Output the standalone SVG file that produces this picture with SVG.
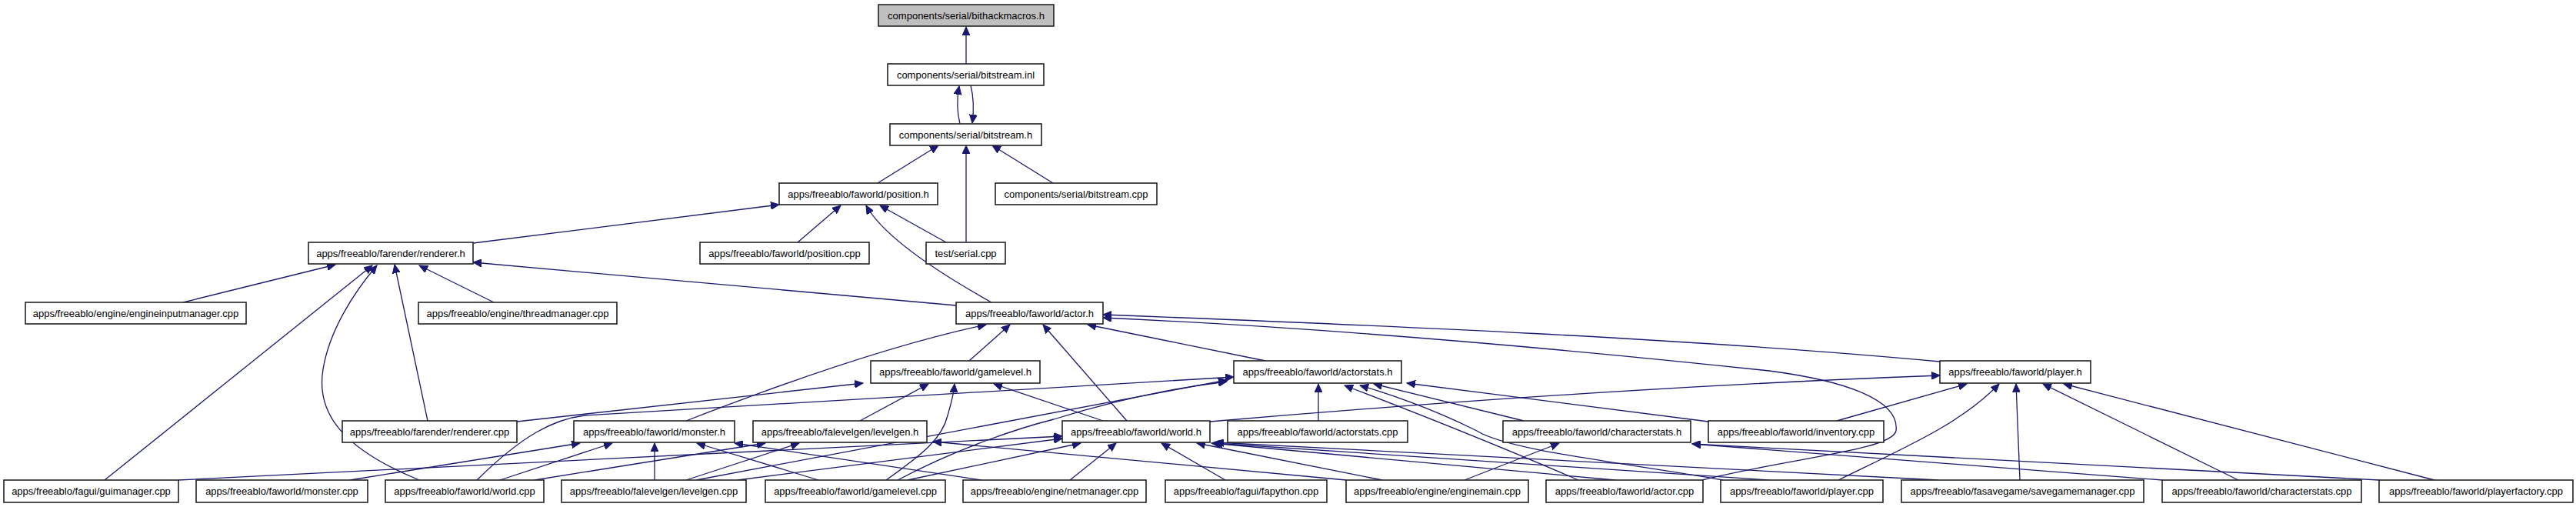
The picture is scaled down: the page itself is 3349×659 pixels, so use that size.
<svg xmlns="http://www.w3.org/2000/svg" width="3349" height="659" viewBox="0 0 3349 659">
<style>
.n rect{fill:#fff;stroke:#222;stroke-width:1.6}
.root rect{fill:#bfbfbf}
.n text{font-family:"Liberation Sans",Arial,sans-serif;font-size:13px;text-anchor:middle;fill:#000}
.e path{fill:none;stroke:#191970;stroke-width:1.3;marker-end:url(#ah)}
</style>
<defs>
<marker id="ah" markerWidth="12" markerHeight="10" refX="11" refY="5" orient="auto" markerUnits="userSpaceOnUse">
<path d="M0,0 L11,5 L0,10 Z" fill="#191970" stroke="#191970" stroke-width="1"/>
</marker>
</defs>
<rect width="3349" height="659" fill="#fff"/>
<g class="e" id="edges">
<path d="M1256,83 L1256,35"/>
<path d="M1248,161 C1244,145 1244,128 1247,112"/>
<path d="M1262,111 C1266,127 1266,145 1264,160"/>
<path d="M1141,238 L1220,189"/>
<path d="M1256,315 L1256,189"/>
<path d="M1369,238 L1290,189"/>
<path d="M615,316 L1013,266"/>
<path d="M1037,315 L1093,267"/>
<path d="M1230,315 L1144,267"/>
<path d="M1289,393 C1230,360 1150,310 1126,267"/>
<path d="M238,393 L436,344"/>
<path d="M642,393 L545,345"/>
<path d="M1243,397 L615,341"/>
<path d="M136,624 L484,345"/>
<path d="M545,624 C450,585 410,540 420,480 C428,430 460,380 490,345"/>
<path d="M556,547 L513,344"/>
<path d="M892,547 C1000,505 1150,450 1282,422"/>
<path d="M1260,469 L1313,422"/>
<path d="M1465,547 L1356,422"/>
<path d="M1645,469 L1414,422"/>
<path d="M2522,470 C2200,440 1800,423 1434,409"/>
<path d="M2213,624 C2330,595 2460,585 2465,560 C2470,520 2400,495 2300,482 C2000,450 1700,425 1434,413"/>
<path d="M672,548 L1122,498"/>
<path d="M1118,547 L1207,499"/>
<path d="M1152,624 C1200,590 1225,570 1232,540 C1238,520 1240,510 1241,499"/>
<path d="M1434,547 L1292,499"/>
<path d="M620,624 C680,565 720,545 760,540 L1604,490"/>
<path d="M1167,624 C1250,580 1330,555 1370,545 C1450,520 1520,505 1595,496"/>
<path d="M905,624 L1595,494"/>
<path d="M1714,547 L1714,499"/>
<path d="M2052,624 C1950,580 1850,540 1748,501"/>
<path d="M2240,624 C2100,600 1960,585 1920,560 C1860,530 1800,510 1768,501"/>
<path d="M1981,547 L1786,499"/>
<path d="M2221,548 L1829,498"/>
<path d="M1573,548 C1900,520 2200,500 2522,488"/>
<path d="M2388,547 L2557,499"/>
<path d="M2390,624 C2480,580 2550,550 2599,499"/>
<path d="M2626,624 L2621,499"/>
<path d="M2910,624 L2656,499"/>
<path d="M3165,624 L2683,499"/>
<path d="M455,624 L754,576"/>
<path d="M650,624 L796,576"/>
<path d="M851,624 L851,576"/>
<path d="M1064,624 L906,576"/>
<path d="M1276,624 L955,576"/>
<path d="M695,624 L995,576"/>
<path d="M892,624 L1039,576"/>
<path d="M1750,624 L1213,574"/>
<path d="M232,624 L1381,567"/>
<path d="M959,624 L1381,570"/>
<path d="M1180,624 L1405,576"/>
<path d="M1391,624 L1451,576"/>
<path d="M1593,624 L1510,576"/>
<path d="M1797,624 L1556,576"/>
<path d="M2100,624 L1575,576"/>
<path d="M2300,624 L1578,576"/>
<path d="M2520,624 L1580,575"/>
<path d="M1904,624 L2027,576"/>
<path d="M2811,624 L2200,577"/>
<path d="M3093,624 L2200,577"/>
</g>
<g class="n root" id="n0"><rect x="1142" y="6" width="228" height="28"/><text x="1256" y="25">components/serial/bithackmacros.h</text></g>
<g class="n" id="n1"><rect x="1154" y="83" width="203" height="28"/><text x="1255.5" y="102">components/serial/bitstream.inl</text></g>
<g class="n" id="n2"><rect x="1157" y="161" width="197" height="28"/><text x="1255.5" y="180">components/serial/bitstream.h</text></g>
<g class="n" id="n3"><rect x="1013" y="238" width="206" height="28"/><text x="1116" y="257">apps/freeablo/faworld/position.h</text></g>
<g class="n" id="n4"><rect x="1294" y="238" width="210" height="28"/><text x="1399" y="257">components/serial/bitstream.cpp</text></g>
<g class="n" id="n5"><rect x="401" y="315" width="214" height="28"/><text x="508" y="334">apps/freeablo/farender/renderer.h</text></g>
<g class="n" id="n6"><rect x="910" y="315" width="220" height="28"/><text x="1020" y="334">apps/freeablo/faworld/position.cpp</text></g>
<g class="n" id="n7"><rect x="1204" y="315" width="103" height="28"/><text x="1255.5" y="334">test/serial.cpp</text></g>
<g class="n" id="n8"><rect x="33" y="393" width="287" height="28"/><text x="176.5" y="412">apps/freeablo/engine/engineinputmanager.cpp</text></g>
<g class="n" id="n9"><rect x="544" y="393" width="258" height="28"/><text x="673" y="412">apps/freeablo/engine/threadmanager.cpp</text></g>
<g class="n" id="n10"><rect x="1243" y="393" width="191" height="28"/><text x="1338.5" y="412">apps/freeablo/faworld/actor.h</text></g>
<g class="n" id="n11"><rect x="1132" y="469" width="220" height="29"/><text x="1242" y="488">apps/freeablo/faworld/gamelevel.h</text></g>
<g class="n" id="n12"><rect x="1604" y="469" width="218" height="29"/><text x="1713" y="488">apps/freeablo/faworld/actorstats.h</text></g>
<g class="n" id="n13"><rect x="2522" y="469" width="196" height="29"/><text x="2620" y="488">apps/freeablo/faworld/player.h</text></g>
<g class="n" id="n14"><rect x="445" y="547" width="227" height="28"/><text x="558.5" y="566">apps/freeablo/farender/renderer.cpp</text></g>
<g class="n" id="n15"><rect x="746" y="547" width="209" height="28"/><text x="850.5" y="566">apps/freeablo/faworld/monster.h</text></g>
<g class="n" id="n16"><rect x="979" y="547" width="226" height="28"/><text x="1092" y="566">apps/freeablo/falevelgen/levelgen.h</text></g>
<g class="n" id="n17"><rect x="1381" y="547" width="192" height="28"/><text x="1477" y="566">apps/freeablo/faworld/world.h</text></g>
<g class="n" id="n18"><rect x="1596" y="547" width="234" height="28"/><text x="1713" y="566">apps/freeablo/faworld/actorstats.cpp</text></g>
<g class="n" id="n19"><rect x="1954" y="547" width="244" height="28"/><text x="2076" y="566">apps/freeablo/faworld/characterstats.h</text></g>
<g class="n" id="n20"><rect x="2221" y="547" width="228" height="28"/><text x="2335" y="566">apps/freeablo/faworld/inventory.cpp</text></g>
<g class="n" id="n21"><rect x="5" y="624" width="227" height="29"/><text x="118.5" y="643">apps/freeablo/fagui/guimanager.cpp</text></g>
<g class="n" id="n22"><rect x="255" y="624" width="223" height="29"/><text x="366.5" y="643">apps/freeablo/faworld/monster.cpp</text></g>
<g class="n" id="n23"><rect x="501" y="624" width="206" height="29"/><text x="604" y="643">apps/freeablo/faworld/world.cpp</text></g>
<g class="n" id="n24"><rect x="730" y="624" width="240" height="29"/><text x="850" y="643">apps/freeablo/falevelgen/levelgen.cpp</text></g>
<g class="n" id="n25"><rect x="995" y="624" width="234" height="29"/><text x="1112" y="643">apps/freeablo/faworld/gamelevel.cpp</text></g>
<g class="n" id="n26"><rect x="1252" y="624" width="238" height="29"/><text x="1371" y="643">apps/freeablo/engine/netmanager.cpp</text></g>
<g class="n" id="n27"><rect x="1515" y="624" width="210" height="29"/><text x="1620" y="643">apps/freeablo/fagui/fapython.cpp</text></g>
<g class="n" id="n28"><rect x="1750" y="624" width="237" height="29"/><text x="1868.5" y="643">apps/freeablo/engine/enginemain.cpp</text></g>
<g class="n" id="n29"><rect x="2010" y="624" width="204" height="29"/><text x="2112" y="643">apps/freeablo/faworld/actor.cpp</text></g>
<g class="n" id="n30"><rect x="2237" y="624" width="211" height="29"/><text x="2342.5" y="643">apps/freeablo/faworld/player.cpp</text></g>
<g class="n" id="n31"><rect x="2472" y="624" width="315" height="29"/><text x="2629.5" y="643">apps/freeablo/fasavegame/savegamemanager.cpp</text></g>
<g class="n" id="n32"><rect x="2811" y="624" width="259" height="29"/><text x="2940.5" y="643">apps/freeablo/faworld/characterstats.cpp</text></g>
<g class="n" id="n33"><rect x="3093" y="624" width="252" height="29"/><text x="3219" y="643">apps/freeablo/faworld/playerfactory.cpp</text></g>
</svg>
